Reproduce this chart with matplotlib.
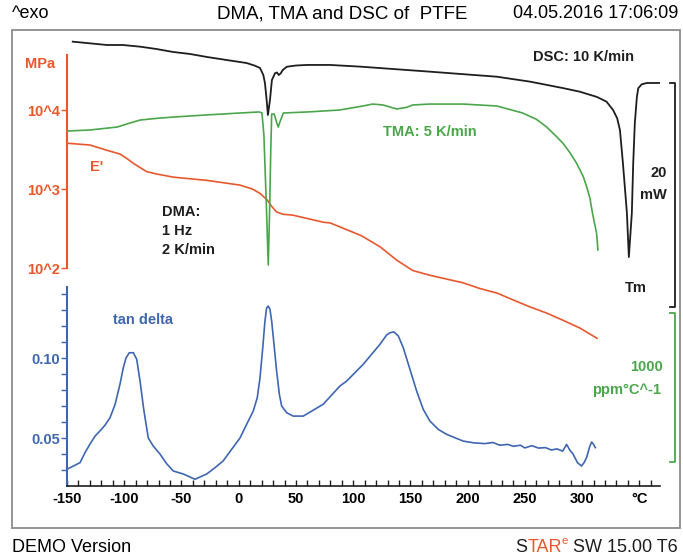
import numpy as np
import matplotlib.pyplot as plt
from matplotlib.patches import Rectangle
from matplotlib.ticker import NullLocator

plt.rcParams['font.family'] = ['Liberation Sans', 'DejaVu Sans']

W, H = 683, 558

# DSC at 10 K/min, heat flow in mW (exo up)
dsc_t = [-145, -130, -115, -101, -86, -71.7, -57.4, -42.6, -27.7, -10.5, 7, 14.2,
         18.6, 21.5, 22.9, 24.4, 25.5, 27.3, 29, 31.7, 33.4, 35, 36.7, 38.5, 42,
         50, 59.6, 79.7, 106, 167, 225.5, 254.4, 283, 298, 313, 321.3, 327, 330.6,
         333, 335.6, 339.1, 340.8, 343.4, 344.6, 346, 347.8, 349, 352, 356.5, 368]
dsc_mw = [0.03, -0.12, -0.27, -0.27, -0.42, -0.63, -0.89, -1.07, -1.34, -1.61,
          -1.88, -2.12, -2.32, -2.95, -3.66, -5.18, -6.52, -5.18, -3.39, -2.79,
          -2.72, -2.95, -2.8, -2.5, -2.21, -2.1, -2.05, -2.05, -2.2, -2.65, -3.1,
          -3.54, -4.11, -4.44, -4.91, -5.33, -6.07, -6.81, -7.86, -10.8, -15.27,
          -19.2, -15.27, -10.83, -7.26, -4.91, -4.13, -3.78, -3.66, -3.66]

# TMA at 5 K/min, ppm/°C (relative)
tma_t = [-150, -130, -106, -97.9, -86, -71.7, -57, -28, 1, 18, 20.3, 22, 24, 25.8,
         27, 28, 28.8, 31, 33, 34.5, 36, 39, 60, 88, 108.5, 117, 126, 138, 146.7,
         152, 167, 196, 225.5, 248, 260, 269, 277.7, 283, 289.3, 295, 301, 304,
         306.8, 309, 312.6, 313.8]
tma_ppm = [1221, 1228, 1248, 1268, 1295, 1306, 1315, 1329, 1342, 1349, 1342, 1194,
           758, 322, 691, 1094, 1335, 1335, 1282, 1248, 1282, 1342, 1349, 1362,
           1389, 1402, 1396, 1369, 1380, 1396, 1402, 1402, 1389, 1342, 1300, 1248,
           1183, 1141, 1076, 1007, 915, 846, 770, 671, 535, 423]

# DMA 1 Hz, 2 K/min: storage modulus E' in MPa
e_t = [-150, -130, -115, -103.7, -98, -92, -86, -80.4, -71.7, -57, -28, 1, 12,
       18.6, 25, 28.8, 33, 38.9, 47, 74, 80, 107, 123.4, 138, 152, 167, 196, 210.7,
       226, 239.8, 254, 269, 283, 298, 313]
e_mpa = [3802, 3606, 3090, 2773, 2455, 2113, 1862, 1660, 1549, 1413, 1288, 1122,
         1000, 881, 724, 603, 513, 479, 468, 380, 372, 257, 186, 126, 93, 81, 65,
         55, 48, 39.4, 32.4, 26.9, 21.9, 17.4, 12.9]

# DMA tan delta
td_t = [-150, -147.4, -138.6, -134.3, -129.9, -125.5, -121.2, -116.8, -112.4, -108,
        -103.7, -100.8, -98.5, -95.6, -92, -89.1, -86.2, -83, -79, -74.7, -68.8,
        -63, -57.2, -48.4, -38.2, -28, -20.8, -13.7, -6.2, 1.1, 6.9, 12.7, 16.2,
        18.6, 21, 22.9, 24.4, 25.8, 27.3, 28.8, 31.1, 33.1, 35.5, 37.5, 41.9, 47.6,
        56.4, 73.8, 79.7, 88.4, 94.3, 108.8, 123.4, 129.2, 132.1, 135.6, 139.4,
        143.7, 149.6, 155.4, 161.2, 167, 174.3, 181.6, 196, 205, 215, 222, 228,
        235, 240, 246, 250, 256, 262, 268, 273, 278, 283, 286.4, 289, 292, 296,
        299.5, 302, 304, 306.5, 308.3, 310, 311.5]
td_val = [0.0305, 0.0314, 0.0346, 0.0408, 0.0462, 0.0512, 0.0544, 0.058, 0.0627,
          0.071, 0.0837, 0.094, 0.100, 0.1033, 0.1033, 0.0992, 0.0856, 0.068, 0.050,
          0.045, 0.040, 0.034, 0.0294, 0.0275, 0.0242, 0.0275, 0.0314, 0.0356,
          0.0429, 0.050, 0.0585, 0.0669, 0.0752, 0.0877, 0.1065, 0.123, 0.1314,
          0.1325, 0.1304, 0.123, 0.1065, 0.0919, 0.0773, 0.070, 0.0658, 0.0637,
          0.0637, 0.0711, 0.0757, 0.0825, 0.0856, 0.0961, 0.1086, 0.1144, 0.1158,
          0.1163, 0.1138, 0.1065, 0.0929, 0.0794, 0.0679, 0.0606, 0.0554, 0.0523,
          0.0481, 0.047, 0.0465, 0.0472, 0.0455, 0.046, 0.0448, 0.0455, 0.0438,
          0.0452, 0.0437, 0.044, 0.0425, 0.0432, 0.0418, 0.046, 0.0427, 0.040,
          0.0345, 0.0325, 0.035, 0.038, 0.0445, 0.0475, 0.046, 0.044]

x_major = [-150, -100, -50, 0, 50, 100, 150, 200, 250, 300, 350]
x_labels = ['-150', '-100', '-50', '0', '50', '100', '150', '200', '250', '300', '°C']
e_ticks = [100, 1000, 10000]
e_labels = ['10^2', '10^3', '10^4']

RED = '#e8582e'
GREEN = '#4ba64b'
BLUE = '#3f66b0'
BLACK = '#1e1e1e'


def fx(x):
    return x / W


def fy(y):
    return 1 - y / H


fig = plt.figure(figsize=(W / 100, H / 100), dpi=100)
fig.patches.append(Rectangle((fx(12), fy(528)), (680 - 12) / W, (528 - 30) / H,
                             transform=fig.transFigure, fill=False,
                             edgecolor='#8c8c8c', lw=1.3))


def make_axes(top):
    return fig.add_axes([fx(67), fy(486), (660 - 67) / W, (486 - top) / H])


xlim = (-150, 368)

# tan delta axes carries the temperature axis
ax = make_axes(287)
ax.set_facecolor('none')
ax.set_xlim(*xlim)
ax.set_ylim(0.02, 0.1444)
ax.plot(td_t, td_val, color=BLUE, lw=1.2)
for s in ['top', 'right']:
    ax.spines[s].set_visible(False)
ax.spines['left'].set_color(BLUE)
ax.spines['left'].set_linewidth(1.5)
ax.spines['bottom'].set_color(BLACK)
ax.spines['bottom'].set_linewidth(1.2)
ax.set_xticks(x_major)
ax.set_xticklabels(x_labels, fontweight='bold', fontsize=10.5)
ax.set_xticks(np.arange(-150, 361, 10), minor=True)
ax.tick_params(axis='x', which='both', direction='in', length=4, width=1,
               color=BLACK, pad=4)
ax.set_yticks([0.05, 0.10])
ax.set_yticklabels(['0.05', '0.10'], color=BLUE, fontweight='bold', fontsize=10.5)
ax.set_yticks(np.arange(0.03, 0.145, 0.01), minor=True)
ax.tick_params(axis='y', which='both', direction='out', length=4, width=1,
               color=BLUE, pad=1)

# E' axes (log)
ax_e = make_axes(30)
ax_e.set_facecolor('none')
ax_e.set_xlim(*xlim)
ax_e.set_yscale('log')
ax_e.set_ylim(10 ** -0.759, 10 ** 5.013)
ax_e.plot(e_t, e_mpa, color=RED, lw=1.2)
for s in ['top', 'right', 'bottom']:
    ax_e.spines[s].set_visible(False)
ax_e.spines['left'].set_bounds(100, 10 ** 4.7)
ax_e.spines['left'].set_color(RED)
ax_e.spines['left'].set_linewidth(1.5)
ax_e.set_xticks([])
ax_e.set_yticks(e_ticks)
ax_e.set_yticklabels(e_labels, color=RED, fontweight='bold', fontsize=10.5)
ax_e.yaxis.set_minor_locator(NullLocator())
ax_e.tick_params(axis='y', direction='out', length=4, width=1, color=RED, pad=1)

# TMA axes
ax_t = make_axes(30)
ax_t.set_xlim(*xlim)
ax_t.set_ylim(-1161, 1899)
ax_t.axis('off')
ax_t.plot(tma_t, tma_ppm, color=GREEN, lw=1.2)
bx, sx = 381, 377
ax_t.plot([sx, bx, bx, sx], [0, 0, -1000, -1000], color=GREEN, lw=1.3, clip_on=False)

# DSC axes
ax_d = make_axes(30)
ax_d.set_xlim(*xlim)
ax_d.set_ylim(-39.64, 1.07)
ax_d.axis('off')
ax_d.plot(dsc_t, dsc_mw, color=BLACK, lw=1.3)
ax_d.plot([sx, bx, bx, sx], [-3.66, -3.66, -23.66, -23.66], color=BLACK, lw=1.3,
          clip_on=False)

# texts
hs = 13
fig.text(fx(12), fy(14), '^exo', ha='left', va='center', size=hs)
fig.text(fx(342), fy(14), 'DMA, TMA and DSC of  PTFE', ha='center', va='center',
         size=13.5)
fig.text(fx(678), fy(14), '04.05.2016 17:06:09', ha='right', va='center', size=hs)
fig.text(fx(12), fy(547), 'DEMO Version', ha='left', va='center', size=hs)

bs = 10.5
kw = dict(fontweight='bold', size=bs, va='center')
fig.text(fx(533), fy(57), 'DSC: 10 K/min', color=BLACK, ha='left', **kw)
fig.text(fx(383), fy(132), 'TMA: 5 K/min', color=GREEN, ha='left', **kw)
fig.text(fx(90), fy(167), "E'", color=RED, ha='left', **kw)
fig.text(fx(162), fy(212), 'DMA:', color=BLACK, ha='left', **kw)
fig.text(fx(162), fy(231), '1 Hz', color=BLACK, ha='left', **kw)
fig.text(fx(162), fy(250), '2 K/min', color=BLACK, ha='left', **kw)
fig.text(fx(113), fy(320), 'tan delta', color=BLUE, ha='left', **kw)
fig.text(fx(55), fy(64), 'MPa', color=RED, ha='right', **kw)
fig.text(fx(667), fy(173), '20', color=BLACK, ha='right', **kw)
fig.text(fx(667), fy(195), 'mW', color=BLACK, ha='right', **kw)
fig.text(fx(625), fy(288), 'Tm', color=BLACK, ha='left', **kw)
fig.text(fx(663), fy(367), '1000', color=GREEN, ha='right', **kw)
fig.text(fx(661), fy(390), 'ppm°C^-1', color=GREEN, ha='right', **kw)

# STARe SW 15.00 T6 footer
fig.canvas.draw()
r = fig.canvas.get_renderer()
t1 = fig.text(fx(678), fy(547), ' SW 15.00 T6', ha='right', va='center', size=hs,
              color=BLACK)
x0 = t1.get_window_extent(r).x0
t2 = fig.text(x0 / W, fy(541), 'e', ha='right', va='center', size=8, color=RED)
x0 = t2.get_window_extent(r).x0
t3 = fig.text(x0 / W, fy(547), 'TAR', ha='right', va='center', size=hs, color=RED)
x0 = t3.get_window_extent(r).x0
fig.text(x0 / W, fy(547), 'S', ha='right', va='center', size=hs, color=BLACK)

fig.savefig('out.png', dpi=100)
